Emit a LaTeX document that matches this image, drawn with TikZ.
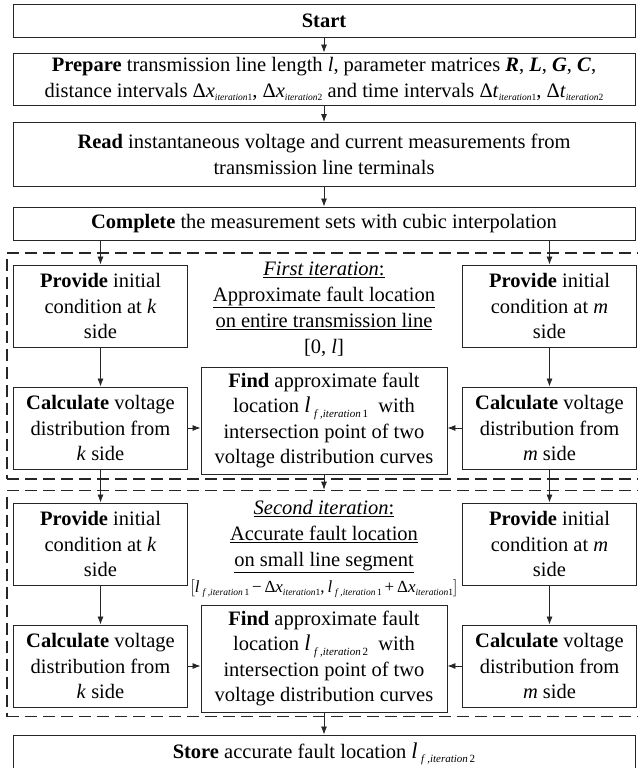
\documentclass[tikz,border=0pt]{standalone}
\usepackage{fontspec}
\setmainfont{Liberation Serif}
\usetikzlibrary{arrows.meta}

\newcommand{\tinysub}[1]{\raisebox{-3.5pt}{\fontsize{9.5}{10}\selectfont #1}}
\newcommand{\midsub}[1]{\raisebox{-4.5pt}{\fontsize{11}{11}\selectfont #1}}
\newcommand{\itsub}[1]{\tinysub{\textit{iteration}#1}}
\newcommand{\lfault}[1]{{\fontsize{22.5}{22}\selectfont\textit{l}}\,\midsub{\textit{f}\,,\textit{iteration}\,#1}}
\newcommand{\lsmall}[1]{\textit{l}\,\tinysub{\textit{f}\,,\textit{iteration}\,#1}}

\begin{document}
\begin{tikzpicture}[
    x=1pt, y=-1pt,
    box/.style={draw=black!85, line width=0.9pt, align=center, inner sep=0pt,
                font=\fontsize{20.5}{25.5}\selectfont},
    widebox/.style={box, minimum width=622pt},
    sidebox/.style={box, minimum width=174pt, minimum height=82pt},
    dashframe/.style={draw=black!85, line width=1.6pt, dash pattern=on 12pt off 6pt,
                      minimum width=640pt, minimum height=226pt, inner sep=0pt},
    note/.style={align=center, inner sep=0pt, font=\fontsize{20.5}{26}\selectfont},
    flowarrow/.style={-{Latex[length=8pt,width=6pt]}, line width=0.8pt, black!85}
]
  \useasboundingbox (0,0) rectangle (637,768);

  % Preparation steps
  \node[widebox, minimum height=33pt] (start) at (324,20.5) {\textbf{Start}};
  \node[widebox, minimum height=52pt] (prepare) at (324,79)
    {\textbf{Prepare} transmission line length \textit{l}, parameter matrices
     \textbf{\textit{R}}, \textbf{\textit{L}}, \textbf{\textit{G}}, \textbf{\textit{C}},\\
     distance intervals Δ\textit{x}\itsub{1}, Δ\textit{x}\itsub{2} and time intervals
     Δ\textit{t}\itsub{1}, Δ\textit{t}\itsub{2}};
  \node[widebox, minimum height=64pt] (read) at (324,154.5)
    {\textbf{Read} instantaneous voltage and current measurements from\\
     transmission line terminals};
  \node[widebox, minimum height=33pt] (complete) at (324,223.5)
    {\textbf{Complete} the measurement sets with cubic interpolation};

  % First iteration
  \node[dashframe] (iterOne) at (327,366) {};
  \node[sidebox] (provKA) at (100.5,306)
    {\textbf{Provide} initial\\ condition at \textit{k}\\ side};
  \node[sidebox] (provMA) at (549.5,306)
    {\textbf{Provide} initial\\ condition at \textit{m}\\ side};
  \node[note] (noteA) at (324,309)
    {\underline{\textit{First iteration}:}\\
     \underline{Approximate fault location}\\
     \underline{on entire transmission line}\\
     {[}0, \textit{l}{]}};
  \node[sidebox] (calcKA) at (100.5,428)
    {\textbf{Calculate} voltage\\ distribution from\\ \textit{k} side};
  \node[sidebox] (calcMA) at (549.5,428)
    {\textbf{Calculate} voltage\\ distribution from\\ \textit{m} side};
  \node[box, minimum width=246pt, minimum height=107pt] (findA) at (324,420.5)
    {\textbf{Find} approximate fault\\ location \lfault{1}\ \ with\\
     intersection point of two\\ voltage distribution curves};

  % Second iteration
  \node[dashframe] (iterTwo) at (327,603.5) {};
  \node[sidebox] (provKB) at (100.5,544)
    {\textbf{Provide} initial\\ condition at \textit{k}\\ side};
  \node[sidebox] (provMB) at (549.5,544)
    {\textbf{Provide} initial\\ condition at \textit{m}\\ side};
  \node[note] (noteB) at (324,549)
    {\underline{\textit{Second iteration}:}\\
     \underline{Accurate fault location}\\
     \underline{on small line segment}\\
     {\fontsize{17}{17}\selectfont$\Big[$\lsmall{1}\,−\,Δ\textit{x}\itsub{1},\,\lsmall{1}\,+\,Δ\textit{x}\itsub{1}$\Big]$}};
  \node[sidebox] (calcKB) at (100.5,666)
    {\textbf{Calculate} voltage\\ distribution from\\ \textit{k} side};
  \node[sidebox] (calcMB) at (549.5,666)
    {\textbf{Calculate} voltage\\ distribution from\\ \textit{m} side};
  \node[box, minimum width=246pt, minimum height=107pt] (findB) at (324,658.5)
    {\textbf{Find} approximate fault\\ location \lfault{2}\ \ with\\
     intersection point of two\\ voltage distribution curves};

  % Result
  \node[widebox, minimum height=38pt] (store) at (324,754)
    {\textbf{Store} accurate fault location \lfault{2}};

  % Connectors
  \draw[flowarrow] (start) -- (prepare);
  \draw[flowarrow] (prepare) -- (read);
  \draw[flowarrow] (read) -- (complete);
  \draw[flowarrow] (complete.south -| provKA) -- (provKA);
  \draw[flowarrow] (complete.south -| provMA) -- (provMA);
  \draw[flowarrow] (provKA) -- (calcKA);
  \draw[flowarrow] (provMA) -- (calcMA);
  \draw[flowarrow] (calcKA.east) -- (calcKA.east -| findA.west);
  \draw[flowarrow] (calcMA.west) -- (calcMA.west -| findA.east);
  \draw[flowarrow] (calcKA) -- (provKB);
  \draw[flowarrow] (calcMA) -- (provMB);
  \draw[flowarrow] (findA.south) -- (findA.south |- iterTwo.north);
  \draw[flowarrow] (provKB) -- (calcKB);
  \draw[flowarrow] (provMB) -- (calcMB);
  \draw[flowarrow] (calcKB.east) -- (calcKB.east -| findB.west);
  \draw[flowarrow] (calcMB.west) -- (calcMB.west -| findB.east);
  \draw[flowarrow] (findB) -- (store);
\end{tikzpicture}
\end{document}
